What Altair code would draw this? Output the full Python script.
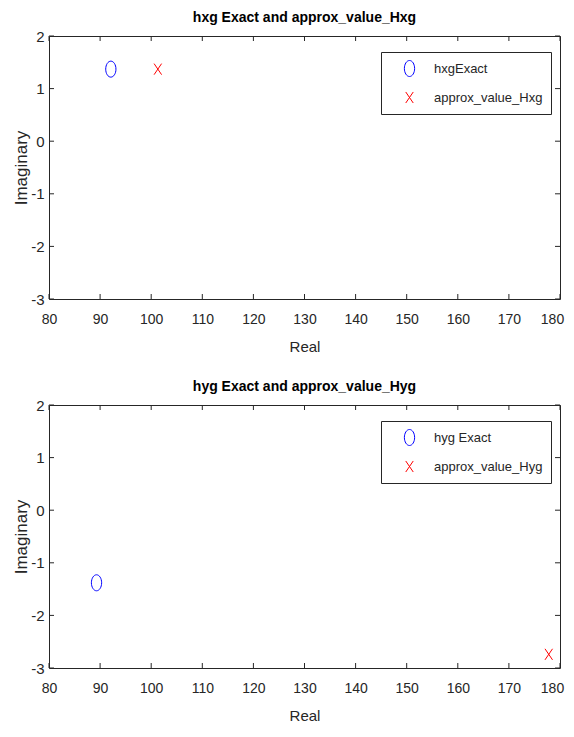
import altair as alt
import pandas as pd

# ---- data ----
top_series = ["hxgExact", "approx_value_Hxg"]
top_real = [92.1, 101.3]
top_imag = [1.37, 1.37]

bot_series = ["hyg Exact", "approx_value_Hyg"]
bot_real = [89.3, 177.8]
bot_imag = [-1.38, -2.74]

titles = ["hxg Exact and approx_value_Hxg", "hyg Exact and approx_value_Hyg"]
x_ticks = [80, 90, 100, 110, 120, 130, 140, 150, 160, 170, 180]
y_ticks = [-3, -2, -1, 0, 1, 2]

FONT = "Liberation Sans"
W, H = 511, 263
TICK = 5
INK = "#262626"

ellipse = "M0,-1A0.64,1 0 1,1 0,1A0.64,1 0 1,1 0,-1Z"
xmark = "M-0.47,-0.69L0.47,0.69M-0.47,0.69L0.47,-0.69"

x_scale = alt.Scale(domain=[x_ticks[0], x_ticks[-1]], nice=False, zero=False)
y_scale = alt.Scale(domain=[y_ticks[0], y_ticks[-1]], nice=False, zero=False)
x_axis = alt.Axis(values=x_ticks, ticks=False, domain=False, grid=False, title="Real",
                  labelPadding=13, titlePadding=13, labelExpr="'' + datum.value",
                  labelFlush=False, labelFontSize=14, titleFontSize=15,
                  labelOffset={"condition": {"test": "datum.value >= 180", "value": -8}, "value": 0})
y_axis = alt.Axis(values=y_ticks, ticks=False, domain=False, grid=False, title="Imaginary",
                  labelPadding=5, titlePadding=0, labelExpr="'' + datum.value",
                  labelFontSize=15, titleFontSize=17)


def panel(series, real, imag, title):
    df = pd.DataFrame({"x": real, "y": imag, "series": series})
    xt = pd.DataFrame({"x": x_ticks})
    yt = pd.DataFrame({"y": y_ticks})
    X = alt.X("x:Q", scale=x_scale, axis=x_axis)
    Y = alt.Y("y:Q", scale=y_scale, axis=y_axis)
    leg = alt.Legend(title=None, orient="none", legendX=332, legendY=16)

    pts = alt.Chart(df).mark_point(filled=False, size=256, strokeWidth=1, opacity=1).encode(
        x=X, y=Y,
        color=alt.Color("series:N", sort=series,
                        scale=alt.Scale(domain=series, range=["#0000ff", "#ff0000"]),
                        legend=leg),
        shape=alt.Shape("series:N", sort=series,
                        scale=alt.Scale(domain=series, range=[ellipse, xmark]),
                        legend=leg),
    )
    bt = alt.Chart(xt).mark_rule(color=INK).encode(x=X, y=alt.value(H), y2=alt.value(H - TICK))
    tt = alt.Chart(xt).mark_rule(color=INK).encode(x=X, y=alt.value(0), y2=alt.value(TICK))
    lt = alt.Chart(yt).mark_rule(color=INK).encode(y=Y, x=alt.value(0), x2=alt.value(TICK))
    rt = alt.Chart(yt).mark_rule(color=INK).encode(y=Y, x=alt.value(W), x2=alt.value(W - TICK))
    return alt.layer(bt, tt, lt, rt, pts).properties(
        width=W, height=H,
        title=alt.TitleParams(title, anchor="middle", offset=4),
    )


top = panel(top_series, top_real, top_imag, titles[0])
bot = panel(bot_series, bot_real, bot_imag, titles[1])

chart = alt.vconcat(
    top, bot, spacing=24, padding={"left": 4, "top": 2, "right": 0, "bottom": 0}
).resolve_scale(
    color="independent", shape="independent"
).resolve_legend(color="independent", shape="independent").configure_view(
    stroke=INK, strokeWidth=1
).configure_axis(
    labelFont=FONT, labelColor=INK,
    titleFont=FONT, titleFontWeight="normal", titleColor=INK,
).configure_title(
    font=FONT, fontSize=14, fontWeight="bold", color="#000000"
).configure_legend(
    labelFont=FONT, labelFontSize=13, labelColor=INK,
    strokeColor=INK, fillColor="white", padding=8, symbolOffset=12, labelOffset=16,
    rowPadding=10, symbolSize=256, symbolStrokeWidth=1, cornerRadius=0,
)

chart.save("out.html", embed_options={"renderer": "svg", "actions": False})
